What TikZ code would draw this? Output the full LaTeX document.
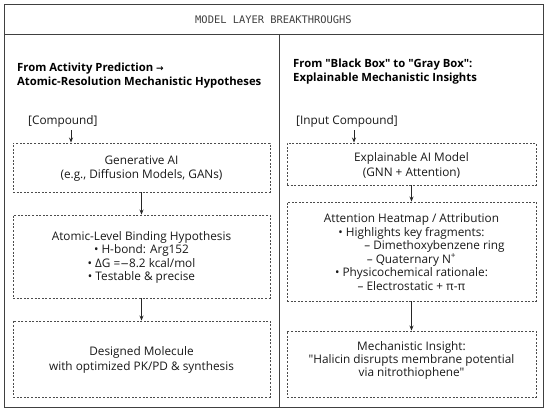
\documentclass[tikz,border=0pt]{standalone}
\usepackage{fontspec}
\setmainfont{Open Sans}[Ligatures=TeXOff]
\newfontfamily\monof{DejaVu Sans Mono}
\newfontfamily\symf{DejaVu Sans}
\usetikzlibrary{arrows.meta}
\begin{document}
\begin{tikzpicture}[x=1pt,y=-1pt,
  frame/.style={draw=black!75,line width=0.9pt},
  dbox/.style={draw=black!70,line width=0.9pt,dash pattern=on 2pt off 1.6pt,rectangle,inner sep=0pt},
  txt/.style={font=\fontsize{11.8}{13.6}\selectfont,align=center,inner sep=0pt,text=black!90},
  head/.style={font=\fontsize{11.3}{14.5}\selectfont\bfseries,align=left,inner sep=0pt,anchor=west},
  arr/.style={-{Stealth[length=5pt,width=4pt]},line width=0.7pt,black!85}]
\useasboundingbox (0,0) rectangle (550,414);
\fill[white] (0,0) rectangle (550,414);
% frame
\draw[frame] (4,4) rectangle (543,407);
\draw[frame] (4,34) -- (543,34);
\draw[frame] (279,34) -- (279,407);
\node[font=\monof\fontsize{10.4}{11}\selectfont,text=black!75] (title) at (273.5,20) {MODEL LAYER BREAKTHROUGHS};
% headings
\node[head] (lh) at (17,75.5) {From Activity Prediction {\symf\fontsize{9}{10}\selectfont →}\\Atomic-Resolution Mechanistic Hypotheses};
\node[head,font=\fontsize{11.3}{14}\selectfont\bfseries] (rh) at (293,72) {From "Black Box" to "Gray Box":\\Explainable Mechanistic Insights};
% inputs
\node[txt,anchor=west] (comp) at (28,121) {[Compound]};
\node[txt,anchor=west] (icomp) at (296,121) {[Input Compound]};
\coordinate (ca) at (71,0);
\coordinate (ica) at (354,0);
% left boxes
\node[dbox,minimum width=257pt,minimum height=49pt] (lb1) at (141.5,167.5) {};
\node[dbox,minimum width=257pt,minimum height=83pt] (lb2) at (141.5,256.5) {};
\node[dbox,minimum width=257pt,minimum height=76pt] (lb3) at (141.5,359) {};
\node[txt] (lt1) at (141.5,168.5) {Generative AI\\(e.g., Diffusion Models, GANs)};
\node[txt] (lt2) at (141.5,257.5) {Atomic-Level Binding Hypothesis\\• H-bond: Arg152\\• ΔG ={\symf\fontsize{10.5}{12}\selectfont −}8.2 kcal/mol\\• Testable \& precise};
\node[txt,font=\fontsize{11.8}{15}\selectfont] (lt3) at (141.5,359.5) {Designed Molecule\\with optimized PK/PD \& synthesis};
% right boxes
\node[dbox,minimum width=249pt,minimum height=42pt] (rb1) at (411.5,164) {};
\node[dbox,minimum width=249pt,minimum height=99pt] (rb2) at (411.5,251.5) {};
\node[dbox,minimum width=249pt,minimum height=66pt] (rb3) at (411.5,364) {};
\node[txt,font=\fontsize{11.8}{14.5}\selectfont] (rt1) at (411.5,165.5) {Explainable AI Model\\(GNN + Attention)};
\node[txt] (rt2) at (411.5,252) {Attention Heatmap / Attribution\\• Highlights key fragments:\\\hspace*{46pt}– Dimethoxybenzene ring\\– Quaternary N\textsuperscript{+}\\• Physicochemical rationale:\\– Electrostatic + π-π};
\node[txt,font=\fontsize{11.8}{12.8}\selectfont] (rt3) at (411.5,360.5) {Mechanistic Insight:\\"Halicin disrupts membrane potential\\via nitrothiophene"};
% arrows
\draw[arr] (comp.south -| ca) ++(0,3) -- (lb1.north -| ca);
\draw[arr] (icomp.south -| ica) ++(0,3) -- (rb1.north -| ica);
\draw[arr] (lb1) -- (lb2);
\draw[arr] (lb2) -- (lb3);
\draw[arr] (rb1) -- (rb2);
\draw[arr] (rb2) -- (rb3);
\end{tikzpicture}
\end{document}
